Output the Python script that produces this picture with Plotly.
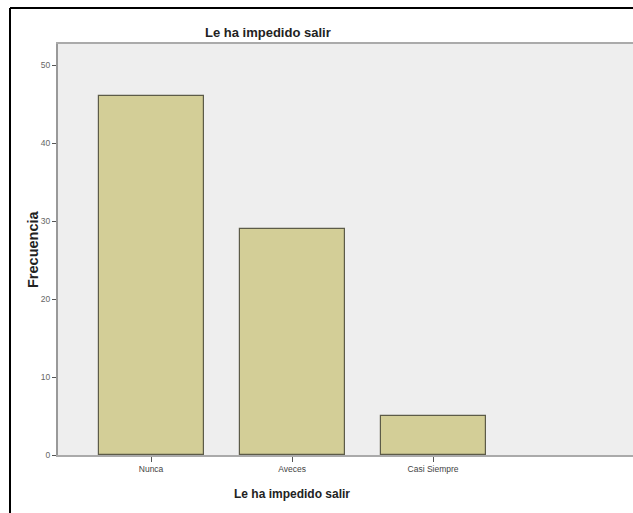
import plotly.graph_objects as go

categories = ["Nunca", "Aveces", "Casi Siempre"]
frecuencia = [46, 29, 5]
y_ticks = [0, 10, 20, 30, 40, 50]

title_text = "Le ha impedido salir"
x_title = "Le ha impedido salir"
y_title = "Frecuencia"

W, H = 633, 513
L, R, T, B = 58, 0, 44, 58
pw = W - L - R
ph = H - T - B
unit_px = 141.0

def px_to_paper_x(px):
    return (px - L) / pw

def px_to_paper_y(py):
    return (H - B - py) / ph

fig = go.Figure()
fig.add_trace(go.Bar(
    x=[0, 1, 2],
    y=frecuencia,
    width=0.745,
    marker=dict(color="#D3CE97", line=dict(color="#5C5B48", width=1.2)),
    hoverinfo="skip",
))

fig.update_layout(
    width=W, height=H,
    margin=dict(l=L, r=R, t=T, b=B),
    paper_bgcolor="white",
    plot_bgcolor="#EEEEEE",
    showlegend=False,
    font=dict(family="Liberation Sans, Arial, sans-serif"),
    bargap=0,
)

fig.update_xaxes(
    range=[-0.66, -0.66 + pw / unit_px],
    tickvals=[0, 1, 2],
    ticktext=categories,
    ticks="outside", ticklen=5, tickcolor="#555555", tickwidth=1,
    tickfont=dict(size=8.5, color="#444444"),
    showline=True, linecolor="#AAAAAA", linewidth=2, mirror=True,
    showgrid=False, zeroline=False,
)
fig.update_yaxes(
    range=[0, 52.7],
    tickvals=y_ticks,
    ticks="outside", ticklen=4, tickcolor="#555555", tickwidth=1,
    tickfont=dict(size=8.5, color="#666666"),
    showline=True, linecolor="#999999", linewidth=2,
    showgrid=False, zeroline=False,
)

# outer black frame (partial, as in reference)
fx = px_to_paper_x(10)
fy = px_to_paper_y(8)
fig.add_shape(type="line", xref="paper", yref="paper",
              x0=fx, x1=1.0, y0=fy, y1=fy, line=dict(color="black", width=2))
fig.add_shape(type="line", xref="paper", yref="paper",
              x0=fx, x1=fx, y0=fy, y1=px_to_paper_y(520), line=dict(color="black", width=2))

fig.add_annotation(text="<b>" + title_text + "</b>", xref="paper", yref="paper",
                   x=px_to_paper_x(268), y=px_to_paper_y(33), showarrow=False,
                   font=dict(size=13, color="#222222"), xanchor="center", yanchor="middle")
fig.add_annotation(text="<b>" + x_title + "</b>", xref="paper", yref="paper",
                   x=px_to_paper_x(292), y=px_to_paper_y(494), showarrow=False,
                   font=dict(size=12, color="#222222"), xanchor="center", yanchor="middle")
fig.add_annotation(text="<b>" + y_title + "</b>", xref="paper", yref="paper",
                   x=px_to_paper_x(33), y=px_to_paper_y(249), showarrow=False, textangle=-90,
                   font=dict(size=14.5, color="#222222"), xanchor="center", yanchor="middle")

fig.write_html(
    "out.html",
    config={"displayModeBar": False},
    post_script=(
        "document.body.style.margin='0';document.body.style.overflow='hidden';"
        "document.documentElement.style.overflow='hidden';"
    ),
)
